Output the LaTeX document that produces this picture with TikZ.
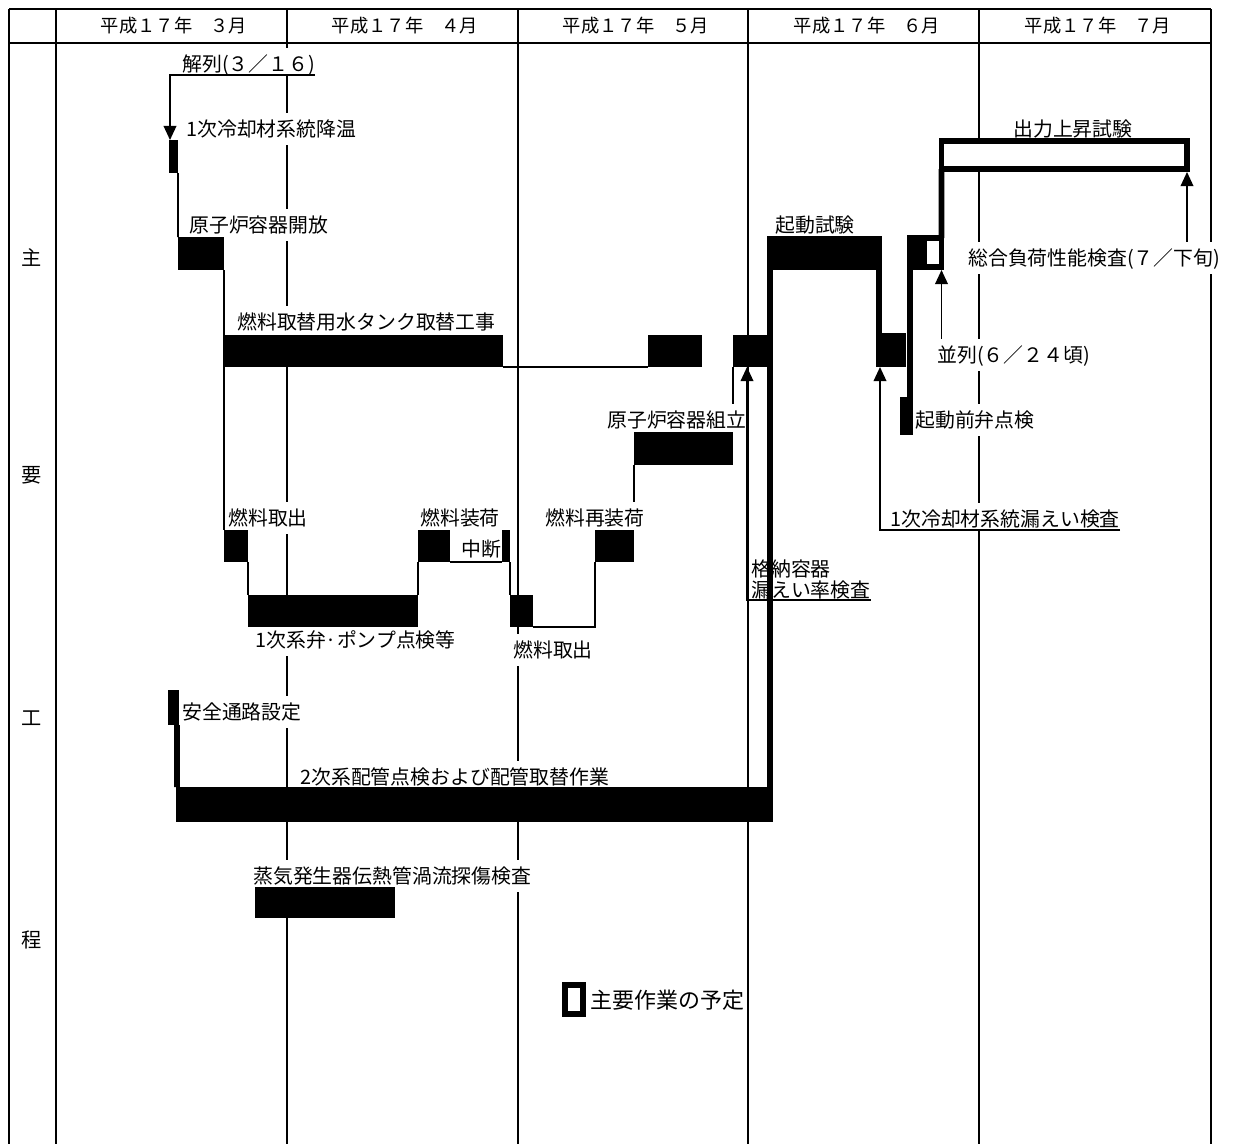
\documentclass[tikz,border=0pt]{standalone}
\usepackage{fontspec}
\setmainfont{Noto Sans CJK JP}
\usetikzlibrary{arrows.meta, fit, calc, backgrounds}

\begin{document}
\begin{tikzpicture}[
    x=0.02cm, y=-0.02cm,
    grid/.style={line width=1.4pt},
    head/.style={font=\fontsize{10.4}{12}\selectfont},
    row/.style={font=\fontsize{11.5}{13}\selectfont},
    lbl/.style={anchor=west, fill=white, inner sep=0pt, text height=13.4pt,
                text depth=4.8pt, font=\fontsize{11.3}{13}\selectfont},
    ulbl/.style={lbl, anchor=south west, text depth=1.7pt},
    bar/.style={fill=black, inner sep=0pt, outer sep=0pt},
    plan/.style={draw=black, fill=white, line width=3.2pt, inner sep=0pt, outer sep=0pt},
    conn/.style={line width=0.9pt},
    arr/.style={conn, -{Triangle[length=8pt, width=7.2pt]}},
    link/.style={line width=3.2pt}
]
\useasboundingbox (0,0) rectangle (1234,1144);

% Frame and months
\draw[grid] (9,9) -- (1211,9);
\draw[grid] (9,43) -- (1211,43);
\draw[grid] (9,9) -- (9,1144);
\foreach \x in {56,287,518,748,979,1211}
  \draw[grid] (\x,9) -- (\x,1144);
\foreach \m [count=\i from 0] in {３,４,５,６,７}
  \node[head] (month\i) at (174+231*\i, 26) {平成１７年　\m 月};

\node[row] (shu) at (32,258) {主};
\node[row] (you) at (32,475) {要};
\node[row] (kou) at (32,718) {工};
\node[row] (tei) at (32,940) {程};

% Labels
\node[ulbl] (kairetsu) at (182,75) {解列(３／１６)};
\node[lbl] (kouonL) at (186,129) {1次冷却材系統降温};
\node[lbl] (kaihoL) at (189,225) {原子炉容器開放};
\node[lbl] (tankL) at (237,322) {燃料取替用水タンク取替工事};
\node[lbl] (kumitateL) at (607,420) {原子炉容器組立};
\node[lbl] (tori1L) at (228,518) {燃料取出};
\node[lbl] (soukaL) at (420,518) {燃料装荷};
\node[lbl] (chudanL) at (461,549) {中断};
\node[lbl] (saisouL) at (545,518) {燃料再装荷};
\node[lbl] (pumpL) at (255,640) {1次系弁·ポンプ点検等};
\node[lbl] (tori2L) at (513,650) {燃料取出};
\node[lbl] (anzenL) at (182,712) {安全通路設定};
\node[lbl] (nijiL) at (300,777) {2次系配管点検および配管取替作業};
\node[lbl] (sgL) at (253,876) {蒸気発生器伝熱管渦流探傷検査};
\node[lbl] (kidouL) at (775,225) {起動試験};
\node[lbl] (bentenL) at (915,420) {起動前弁点検};
\node[lbl] (heirL) at (937,355) {並列(６／２４頃)};
\node[lbl] (sougouL) at (968,258) {総合負荷性能検査(７／下旬)};
\node[lbl] (shutL) at (1013,129) {出力上昇試験};
\node[ulbl] (roueiL) at (890,530) {1次冷却材系統漏えい検査};
\node[anchor=south west, fill=white, inner sep=0pt, align=left,
      font=\fontsize{11.3}{12.5}\selectfont] (kakunoL) at (751,600) {格納容器\\漏えい率検査};

% Bars
\node[bar, fit={(169,140) (178,173)}] (kouon) {};
\node[bar, fit={(178,237) (224,270)}] (kaiho) {};
\node[bar, fit={(224,335) (503,367)}] (tank1) {};
\node[bar, fit={(648,335) (702,367)}] (tank2) {};
\node[bar, fit={(733,335) (773,367)}] (tank3) {};
\node[bar, fit={(634,432) (733,465)}] (kumitate) {};
\node[bar, fit={(224,530) (248,562)}] (tori1) {};
\node[bar, fit={(248,595) (418,627)}] (pump) {};
\node[bar, fit={(418,530) (450,562)}] (souka) {};
\node[bar, fit={(502,530) (510,562)}] (chudan) {};
\node[bar, fit={(510,595) (533,627)}] (tori2) {};
\node[bar, fit={(595,530) (634,562)}] (saisou) {};
\node[bar, fit={(168,690) (179,725)}] (anzen) {};
\node[bar, fit={(176,787) (773,822)}] (niji) {};
\node[bar, fit={(255,887) (395,918)}] (sg) {};
\node[bar, fit={(767,236) (882,270)}] (kidou) {};
\node[bar, fit={(876,333) (906,367)}] (kidou2) {};
\node[bar, fit={(900,397) (913,435)}] (benten) {};
\node[bar, fit={(907,235) (922,270)}] (heir) {};
\node[plan, fit={(924,238) (941.5,267)}] (heirp) {};
\node[plan, fit={(941.5,141) (1187,169)}] (shut) {};

% Legend
\node[plan, fit={(565,985) (583,1014)}] (legend) {};
\node[anchor=west, inner sep=0pt, font=\fontsize{12.5}{14}\selectfont] (legendL) at (590,1000) {主要作業の予定};

% Connectors
\begin{pgfonlayer}{background}
\draw[conn] (tank3.south west) -- (kumitate.north east);
\draw[conn] (saisou.north east) -- (kumitate.south west);
\end{pgfonlayer}
\draw[arr] (kairetsu.south east) -| ($(kouon.north west)+(1,0)$);
\draw[conn] (kouon.south east) -- (kaiho.north west);
\draw[conn] (kaiho.south east) -- (tori1.north west);
\draw[conn] (tank1.south east) -- (tank2.south west);
\draw[conn] (tori1.south east) -- (pump.north west);
\draw[conn] (pump.north east) -- (souka.south west);
\draw[conn] (souka.south east) -- (chudan.south west);
\draw[conn] (chudan.south east) -- (tori2.north west);
\draw[conn] (tori2.south east) -| (saisou.south west);
\draw[link] ($(anzen.south east)+(-2,0)$) -- ($(niji.north west)+(1,0)$);
\draw[link] ($(niji.north east)+(-3,0)$) -- ($(kidou.south west)+(3,0)$);
\draw[link] ($(kidou.south east)+(-3,0)$) -- ($(kidou2.north west)+(3,0)$);
\draw[link] ($(benten.north east)+(-3,0)$) -- ($(heir.south west)+(3,0)$);
\draw[link] (heirp.north east) -- (shut.south west);

% Arrows
\draw[arr] (kakunoL.south east) -| ($(tank3.south west)+(14,0)$);
\draw[arr] (roueiL.south east) -| ($(kidou2.south west)+(4,0)$);
\draw[arr] (heirL.north -| heirp.south east) -- ($(heirp.south east)+(0,3)$);
\draw[arr] (sougouL.north -| shut.south east) -- ($(shut.south east)+(0,3)$);
\end{tikzpicture}
\end{document}
